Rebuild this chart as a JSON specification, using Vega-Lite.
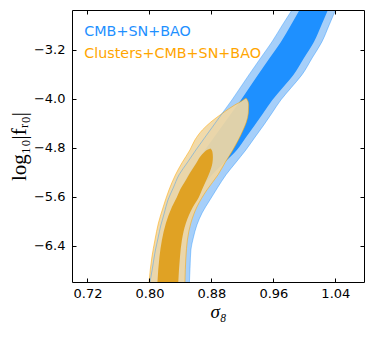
{
  "$schema": "https://vega.github.io/schema/vega-lite/v6.json",
  "width": 292,
  "height": 272,
  "autosize": {"type": "none"},
  "padding": {"left": 72, "top": 10, "right": 10, "bottom": 57},
  "config": {"view": {"stroke": null}, "font": "DejaVu Sans"},
  "data": {"values": [
    {"set": "CMB+SN+BAO", "lvl": 95, "y": -2.540, "xl": 0.9845, "xr": 1.0406},
    {"set": "CMB+SN+BAO", "lvl": 95, "y": -2.793, "xl": 0.9717, "xr": 1.0321},
    {"set": "CMB+SN+BAO", "lvl": 95, "y": -3.071, "xl": 0.9581, "xr": 1.0226},
    {"set": "CMB+SN+BAO", "lvl": 95, "y": -3.332, "xl": 0.9436, "xr": 1.0101},
    {"set": "CMB+SN+BAO", "lvl": 95, "y": -3.609, "xl": 0.9284, "xr": 0.9968},
    {"set": "CMB+SN+BAO", "lvl": 95, "y": -3.822, "xl": 0.9170, "xr": 0.9827},
    {"set": "CMB+SN+BAO", "lvl": 95, "y": -4.018, "xl": 0.9065, "xr": 0.9697},
    {"set": "CMB+SN+BAO", "lvl": 95, "y": -4.230, "xl": 0.8943, "xr": 0.9583},
    {"set": "CMB+SN+BAO", "lvl": 95, "y": -4.426, "xl": 0.8832, "xr": 0.9477},
    {"set": "CMB+SN+BAO", "lvl": 95, "y": -4.638, "xl": 0.8711, "xr": 0.9356},
    {"set": "CMB+SN+BAO", "lvl": 95, "y": -4.834, "xl": 0.8600, "xr": 0.9245},
    {"set": "CMB+SN+BAO", "lvl": 95, "y": -5.046, "xl": 0.8486, "xr": 0.9111},
    {"set": "CMB+SN+BAO", "lvl": 95, "y": -5.242, "xl": 0.8381, "xr": 0.8987},
    {"set": "CMB+SN+BAO", "lvl": 95, "y": -5.454, "xl": 0.8307, "xr": 0.8877},
    {"set": "CMB+SN+BAO", "lvl": 95, "y": -5.650, "xl": 0.8239, "xr": 0.8781},
    {"set": "CMB+SN+BAO", "lvl": 95, "y": -5.862, "xl": 0.8192, "xr": 0.8680},
    {"set": "CMB+SN+BAO", "lvl": 95, "y": -6.058, "xl": 0.8148, "xr": 0.8613},
    {"set": "CMB+SN+BAO", "lvl": 95, "y": -6.271, "xl": 0.8111, "xr": 0.8566},
    {"set": "CMB+SN+BAO", "lvl": 95, "y": -6.467, "xl": 0.8077, "xr": 0.8535},
    {"set": "CMB+SN+BAO", "lvl": 95, "y": -6.728, "xl": 0.8043, "xr": 0.8525},
    {"set": "CMB+SN+BAO", "lvl": 95, "y": -7.000, "xl": 0.8006, "xr": 0.8516},
    {"set": "CMB+SN+BAO", "lvl": 68, "y": -2.540, "xl": 0.9942, "xr": 1.0307},
    {"set": "CMB+SN+BAO", "lvl": 68, "y": -2.793, "xl": 0.9827, "xr": 1.0221},
    {"set": "CMB+SN+BAO", "lvl": 68, "y": -3.071, "xl": 0.9697, "xr": 1.0123},
    {"set": "CMB+SN+BAO", "lvl": 68, "y": -3.332, "xl": 0.9552, "xr": 0.9995},
    {"set": "CMB+SN+BAO", "lvl": 68, "y": -3.609, "xl": 0.9400, "xr": 0.9858},
    {"set": "CMB+SN+BAO", "lvl": 68, "y": -3.822, "xl": 0.9286, "xr": 0.9717},
    {"set": "CMB+SN+BAO", "lvl": 68, "y": -4.018, "xl": 0.9181, "xr": 0.9587},
    {"set": "CMB+SN+BAO", "lvl": 68, "y": -4.230, "xl": 0.9059, "xr": 0.9470},
    {"set": "CMB+SN+BAO", "lvl": 68, "y": -4.426, "xl": 0.8948, "xr": 0.9361},
    {"set": "CMB+SN+BAO", "lvl": 68, "y": -4.638, "xl": 0.8827, "xr": 0.9240},
    {"set": "CMB+SN+BAO", "lvl": 68, "y": -4.834, "xl": 0.8716, "xr": 0.9129},
    {"set": "CMB+SN+BAO", "lvl": 68, "y": -5.046, "xl": 0.8603, "xr": 0.8961},
    {"set": "CMB+SN+BAO", "lvl": 68, "y": -5.242, "xl": 0.8497, "xr": 0.8806},
    {"set": "CMB+SN+BAO", "lvl": 68, "y": -5.454, "xl": 0.8417, "xr": 0.8665},
    {"set": "CMB+SN+BAO", "lvl": 68, "y": -5.650, "xl": 0.8342, "xr": 0.8548},
    {"set": "CMB+SN+BAO", "lvl": 68, "y": -5.862, "xl": 0.8288, "xr": 0.8475},
    {"set": "CMB+SN+BAO", "lvl": 68, "y": -6.058, "xl": 0.8239, "xr": 0.8406},
    {"set": "CMB+SN+BAO", "lvl": 68, "y": -6.271, "xl": 0.8199, "xr": 0.8373},
    {"set": "CMB+SN+BAO", "lvl": 68, "y": -6.467, "xl": 0.8161, "xr": 0.8342},
    {"set": "CMB+SN+BAO", "lvl": 68, "y": -6.728, "xl": 0.8135, "xr": 0.8329},
    {"set": "CMB+SN+BAO", "lvl": 68, "y": -7.000, "xl": 0.8110, "xr": 0.8316},
    {"set": "Clusters+CMB+SN+BAO", "lvl": 95, "y": -3.993, "xl": 0.9239, "xr": 0.9252},
    {"set": "Clusters+CMB+SN+BAO", "lvl": 95, "y": -4.034, "xl": 0.9194, "xr": 0.9271},
    {"set": "Clusters+CMB+SN+BAO", "lvl": 95, "y": -4.099, "xl": 0.9103, "xr": 0.9281},
    {"set": "Clusters+CMB+SN+BAO", "lvl": 95, "y": -4.230, "xl": 0.8948, "xr": 0.9277},
    {"set": "Clusters+CMB+SN+BAO", "lvl": 95, "y": -4.377, "xl": 0.8794, "xr": 0.9252},
    {"set": "Clusters+CMB+SN+BAO", "lvl": 95, "y": -4.507, "xl": 0.8684, "xr": 0.9210},
    {"set": "Clusters+CMB+SN+BAO", "lvl": 95, "y": -4.671, "xl": 0.8587, "xr": 0.9148},
    {"set": "Clusters+CMB+SN+BAO", "lvl": 95, "y": -4.834, "xl": 0.8523, "xr": 0.9077},
    {"set": "Clusters+CMB+SN+BAO", "lvl": 95, "y": -5.046, "xl": 0.8419, "xr": 0.8974},
    {"set": "Clusters+CMB+SN+BAO", "lvl": 95, "y": -5.242, "xl": 0.8335, "xr": 0.8884},
    {"set": "Clusters+CMB+SN+BAO", "lvl": 95, "y": -5.487, "xl": 0.8252, "xr": 0.8742},
    {"set": "Clusters+CMB+SN+BAO", "lvl": 95, "y": -5.764, "xl": 0.8178, "xr": 0.8613},
    {"set": "Clusters+CMB+SN+BAO", "lvl": 95, "y": -6.026, "xl": 0.8116, "xr": 0.8535},
    {"set": "Clusters+CMB+SN+BAO", "lvl": 95, "y": -6.303, "xl": 0.8071, "xr": 0.8490},
    {"set": "Clusters+CMB+SN+BAO", "lvl": 95, "y": -6.581, "xl": 0.8032, "xr": 0.8471},
    {"set": "Clusters+CMB+SN+BAO", "lvl": 95, "y": -7.000, "xl": 0.7994, "xr": 0.8458},
    {"set": "Clusters+CMB+SN+BAO", "lvl": 68, "y": -4.809, "xl": 0.8787, "xr": 0.8787},
    {"set": "Clusters+CMB+SN+BAO", "lvl": 68, "y": -4.834, "xl": 0.8742, "xr": 0.8804},
    {"set": "Clusters+CMB+SN+BAO", "lvl": 68, "y": -4.867, "xl": 0.8710, "xr": 0.8813},
    {"set": "Clusters+CMB+SN+BAO", "lvl": 68, "y": -4.948, "xl": 0.8652, "xr": 0.8819},
    {"set": "Clusters+CMB+SN+BAO", "lvl": 68, "y": -5.046, "xl": 0.8606, "xr": 0.8813},
    {"set": "Clusters+CMB+SN+BAO", "lvl": 68, "y": -5.209, "xl": 0.8523, "xr": 0.8774},
    {"set": "Clusters+CMB+SN+BAO", "lvl": 68, "y": -5.324, "xl": 0.8471, "xr": 0.8735},
    {"set": "Clusters+CMB+SN+BAO", "lvl": 68, "y": -5.487, "xl": 0.8394, "xr": 0.8677},
    {"set": "Clusters+CMB+SN+BAO", "lvl": 68, "y": -5.601, "xl": 0.8355, "xr": 0.8639},
    {"set": "Clusters+CMB+SN+BAO", "lvl": 68, "y": -5.764, "xl": 0.8290, "xr": 0.8561},
    {"set": "Clusters+CMB+SN+BAO", "lvl": 68, "y": -6.026, "xl": 0.8213, "xr": 0.8471},
    {"set": "Clusters+CMB+SN+BAO", "lvl": 68, "y": -6.303, "xl": 0.8161, "xr": 0.8419},
    {"set": "Clusters+CMB+SN+BAO", "lvl": 68, "y": -6.581, "xl": 0.8129, "xr": 0.8394},
    {"set": "Clusters+CMB+SN+BAO", "lvl": 68, "y": -7.000, "xl": 0.8103, "xr": 0.8372}
  ]},
  "layer": [
    {
      "transform": [{"filter": "datum.set === 'CMB+SN+BAO' && datum.lvl === 95"}],
      "mark": {"type": "area", "orient": "horizontal", "interpolate": "monotone", "fill": "#a6cff9", "clip": true},
      "encoding": {
        "y": {"field": "y", "type": "quantitative", "scale": {"domain": [-6.99, -2.55], "nice": false, "zero": false},
          "axis": {"orient": "left", "values": [-3.2, -4.0, -4.8, -5.6, -6.4], "format": ".1f", "tickSize": -4, "tickColor": "#000", "domain": true, "domainColor": "#000", "zindex": 1, "grid": false,
            "labelFont": "DejaVu Sans", "labelFontSize": 13, "labelColor": "#000", "labelPadding": 11,
            "title": "log₁₀|fᵣ₀|", "titleFont": "Liberation Serif", "titleFontSize": 21, "titleFontWeight": "normal", "titleColor": "#000", "titlePadding": 4}},
        "x": {"field": "xl", "type": "quantitative", "scale": {"domain": [0.70, 1.077], "nice": false, "zero": false},
          "axis": {"orient": "bottom", "values": [0.72, 0.80, 0.88, 0.96, 1.04], "format": ".2f", "tickSize": -4, "tickColor": "#000", "domain": true, "domainColor": "#000", "zindex": 1, "grid": false,
            "labelFont": "DejaVu Sans", "labelFontSize": 13, "labelColor": "#000", "labelPadding": 9, "labelFlush": false,
            "title": "σ₈", "titleFont": "Liberation Serif", "titleFontSize": 19, "titleFontStyle": "italic", "titleFontWeight": "normal", "titleColor": "#000", "titlePadding": 2}},
        "x2": {"field": "xr"}
      }
    },
    {
      "transform": [{"filter": "datum.set === 'CMB+SN+BAO' && datum.lvl === 68"}],
      "mark": {"type": "area", "orient": "horizontal", "interpolate": "monotone", "fill": "#1e90ff", "clip": true},
      "encoding": {
        "y": {"field": "y", "type": "quantitative",
          "axis": {"orient": "right", "values": [-3.2, -4.0, -4.8, -5.6, -6.4], "tickSize": -4, "tickColor": "#000", "domain": true, "domainColor": "#000", "zindex": 1, "grid": false, "labels": false, "title": null}},
        "x": {"field": "xl", "type": "quantitative",
          "axis": {"orient": "top", "values": [0.72, 0.80, 0.88, 0.96, 1.04], "tickSize": -4, "tickColor": "#000", "domain": true, "domainColor": "#000", "zindex": 1, "grid": false, "labels": false, "title": null}},
        "x2": {"field": "xr"}
      }
    },
    {
      "transform": [{"filter": "datum.set === 'Clusters+CMB+SN+BAO' && datum.lvl === 95"}],
      "mark": {"type": "area", "orient": "horizontal", "interpolate": "monotone", "fill": "#f0d7a3", "fillOpacity": 0.92, "strokeWidth": 0.9, "strokeOpacity": 0.6, "clip": true},
      "encoding": {
        "y": {"field": "y", "type": "quantitative", "axis": null},
        "x": {"field": "xl", "type": "quantitative", "axis": null},
        "x2": {"field": "xr"},
        "stroke": {"field": "set", "type": "nominal",
          "scale": {"domain": ["CMB+SN+BAO", "Clusters+CMB+SN+BAO"], "range": ["#1e90ff", "#ffa500"]},
          "legend": {"orient": "none", "legendX": -2, "legendY": 15, "title": null, "symbolSize": 0, "symbolStrokeWidth": 0, "symbolOpacity": 0, "labelOffset": 0, "labelFont": "DejaVu Sans", "labelFontSize": 14.3, "rowPadding": 7, "padding": 0, "labelLimit": 300,
            "labelColor": {"expr": "datum.value === 'CMB+SN+BAO' ? '#1e90ff' : '#ffa500'"}}}
      }
    },
    {
      "transform": [{"filter": "datum.set === 'CMB+SN+BAO' && datum.lvl === 95"}],
      "mark": {"type": "area", "orient": "horizontal", "interpolate": "monotone", "fillOpacity": 0, "strokeWidth": 0.9, "strokeOpacity": 0.45, "clip": true},
      "encoding": {
        "y": {"field": "y", "type": "quantitative", "axis": null},
        "x": {"field": "xl", "type": "quantitative", "axis": null},
        "x2": {"field": "xr"},
        "stroke": {"field": "set", "type": "nominal",
          "scale": {"domain": ["CMB+SN+BAO", "Clusters+CMB+SN+BAO"], "range": ["#1e90ff", "#ffa500"]},
          "legend": {"orient": "none", "legendX": -2, "legendY": 15, "title": null, "symbolSize": 0, "symbolStrokeWidth": 0, "symbolOpacity": 0, "labelOffset": 0, "labelFont": "DejaVu Sans", "labelFontSize": 14.3, "rowPadding": 7, "padding": 0, "labelLimit": 300,
            "labelColor": {"expr": "datum.value === 'CMB+SN+BAO' ? '#1e90ff' : '#ffa500'"}}}
      }
    },
    {
      "transform": [{"filter": "datum.set === 'Clusters+CMB+SN+BAO' && datum.lvl === 68"}],
      "mark": {"type": "area", "orient": "horizontal", "interpolate": "monotone", "fill": "#e0a224", "clip": true},
      "encoding": {
        "y": {"field": "y", "type": "quantitative", "axis": null},
        "x": {"field": "xl", "type": "quantitative", "axis": null},
        "x2": {"field": "xr"}
      }
    }
  ],
  "resolve": {"axis": {"x": "independent", "y": "independent"}}
}
